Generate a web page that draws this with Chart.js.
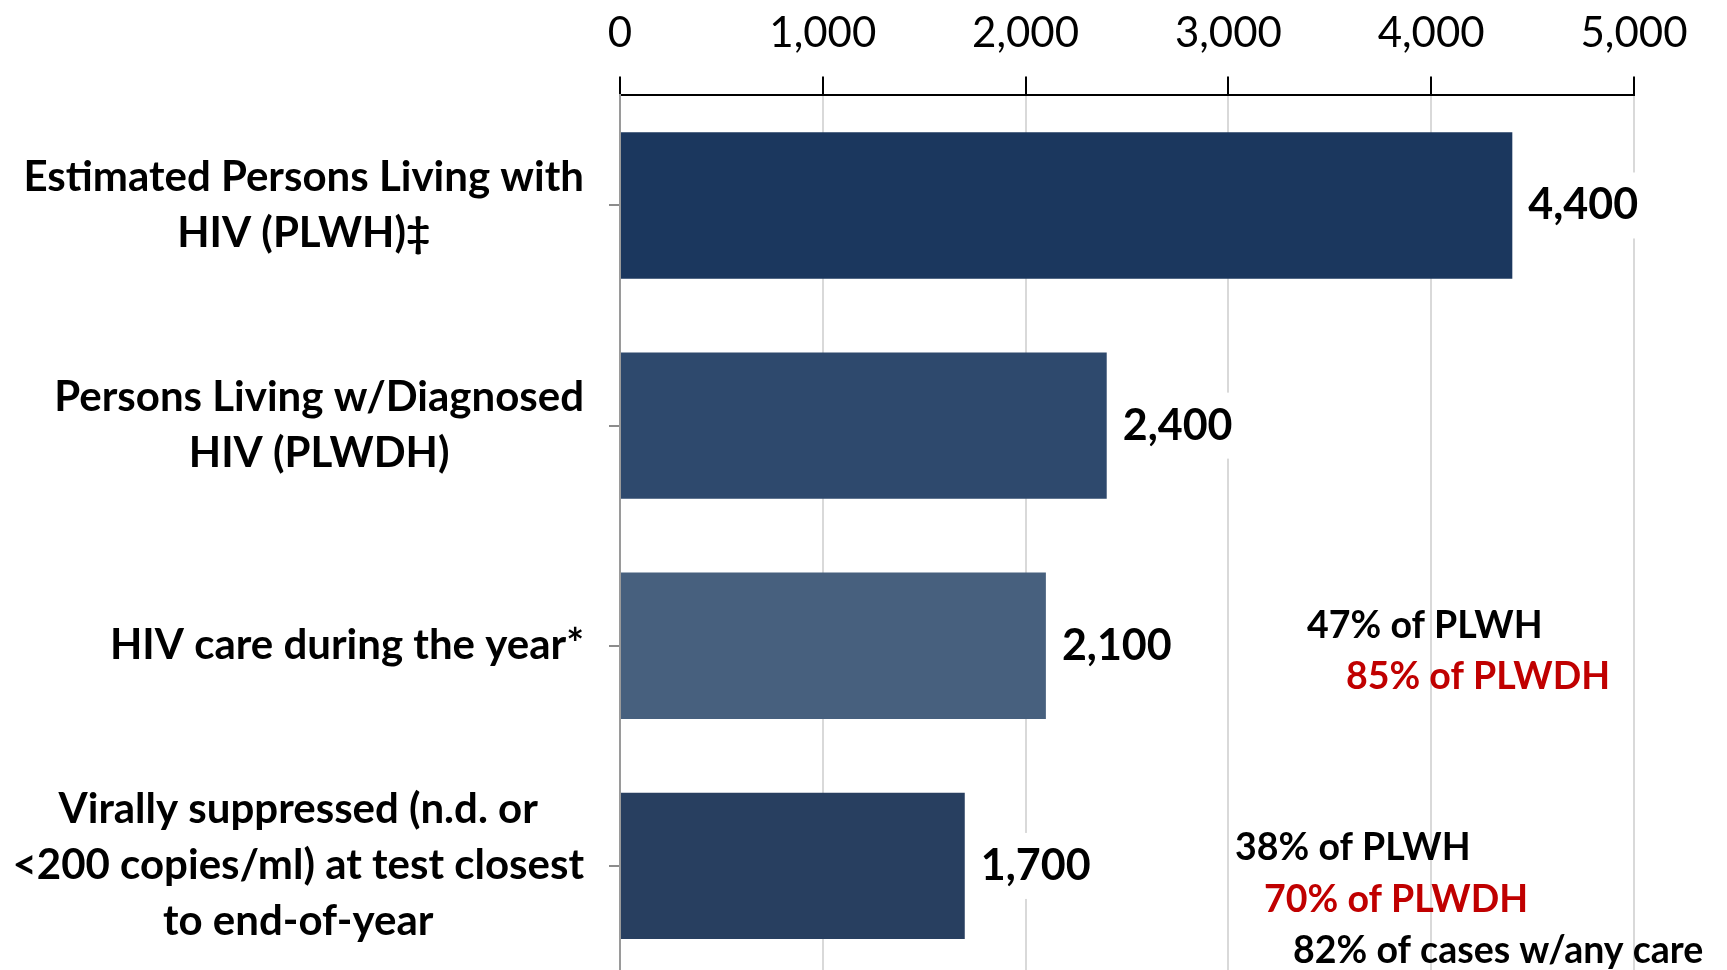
<!DOCTYPE html>
<html>
<head>
<meta charset="utf-8">
<script src="https://cdn.jsdelivr.net/npm/chart.js@4/dist/chart.umd.min.js"></script>
<style>
  html, body { margin: 0; padding: 0; background: #fff; overflow: hidden; }
  #wrap { position: relative; width: 1727px; height: 976px; }
</style>
</head>
<body>
<div id="wrap"><canvas id="cascade"></canvas></div>
<script>
const categories = [
  ['Estimated Persons Living with', 'HIV (PLWH)‡'],
  ['Persons Living w/Diagnosed', 'HIV (PLWDH)'],
  ['HIV care during the year*'],
  ['Virally suppressed (n.d. or', '<200 copies/ml) at test closest', 'to end-of-year']
];
const persons = [4400, 2400, 2100, 1700];
const barColors = ['#1b375e', '#2e496d', '#47607e', '#283f60'];
const xTicks = [0, 1000, 2000, 3000, 4000, 5000];

const noteTexts = ['47% of PLWH', '85% of PLWDH', '38% of PLWH', '70% of PLWDH', '82% of cases w/any care'];
const noteColors = ['#000', '#c00000', '#000', '#c00000', '#000'];
// where each note starts: x in data units, y in category units
const noteAnchors = [[3388, 1.909], [3580, 2.14], [3033, 2.92], [3176, 3.155], [3319, 3.386]];

const fmt = v => Number(v).toLocaleString('en-US');
const labelFont = 'bold 42px Lato';
const labelLine = 56;

// category labels: each block right-aligned to the axis, its lines centred within the block
const catLabels = {
  id: 'catLabels',
  afterDraw(chart) {
    const ctx = chart.ctx;
    const ys = chart.scales.y;
    const right = ys.right - 36;
    ctx.save();
    ctx.font = labelFont;
    ctx.fillStyle = '#000';
    ctx.textAlign = 'center';
    ctx.textBaseline = 'middle';
    categories.forEach((lines, i) => {
      const w = Math.max(...lines.map(l => ctx.measureText(l).width));
      const cx = right - w / 2;
      const cy = ys.getPixelForTick(i);
      const y0 = cy - (lines.length - 1) * labelLine / 2;
      lines.forEach((l, j) => ctx.fillText(l, cx, y0 + j * labelLine));
    });
    ctx.restore();
  }
};

// value labels on a white box + the percentage notes
const barNotes = {
  id: 'barNotes',
  afterDatasetsDraw(chart) {
    const ctx = chart.ctx;
    const meta = chart.getDatasetMeta(0);
    ctx.save();
    ctx.textBaseline = 'middle';
    ctx.textAlign = 'left';
    ctx.font = 'bold 43px Lato';
    meta.data.forEach((bar, i) => {
      const txt = fmt(persons[i]);
      const w = ctx.measureText(txt).width;
      const x = bar.x + 16;
      ctx.fillStyle = '#fff';
      ctx.fillRect(x - 4, bar.y - 33, w + 8, 66);
      ctx.fillStyle = '#000';
      ctx.fillText(txt, x, bar.y);
    });

    const xs = chart.scales.x, ys = chart.scales.y;
    ctx.font = 'bold 37.5px Lato';
    noteTexts.forEach((t, i) => {
      const [v, c] = noteAnchors[i];
      ctx.fillStyle = noteColors[i];
      ctx.fillText(t, xs.getPixelForValue(v), ys.getPixelForValue(c));
    });
    ctx.restore();
  }
};

new Chart(document.getElementById('cascade'), {
  type: 'bar',
  data: {
    labels: categories,
    datasets: [{
      data: persons,
      backgroundColor: barColors,
      barPercentage: 0.665,
      categoryPercentage: 1
    }]
  },
  options: {
    indexAxis: 'y',
    responsive: true,
    maintainAspectRatio: false,
    animation: false,
    layout: { padding: { top: -10, right: 93, left: 0, bottom: 0 } },
    plugins: {
      legend: { display: false },
      tooltip: { enabled: false }
    },
    scales: {
      x: {
        position: 'top',
        min: 0,
        max: 5000,
        afterBuildTicks: s => { s.ticks = xTicks.map(v => ({ value: v })); },
        ticks: {
          font: { family: 'Lato', size: 42 },
          color: '#000',
          padding: 18,
          callback: v => fmt(v)
        },
        grid: { color: '#d9d9d9', lineWidth: 2, tickColor: '#000', tickLength: 19 },
        border: { color: '#000', width: 2 }
      },
      y: {
        afterFit: s => { s.width = 620; s.paddingTop = 0; s.paddingBottom = 0; },
        ticks: { display: false },
        grid: { drawOnChartArea: false, offset: false, color: '#8c8c8c', tickLength: 11, lineWidth: 2 },
        border: { color: '#9a9a9a', width: 2 }
      }
    }
  },
  plugins: [barNotes, catLabels]
});
</script>
</body>
</html>
